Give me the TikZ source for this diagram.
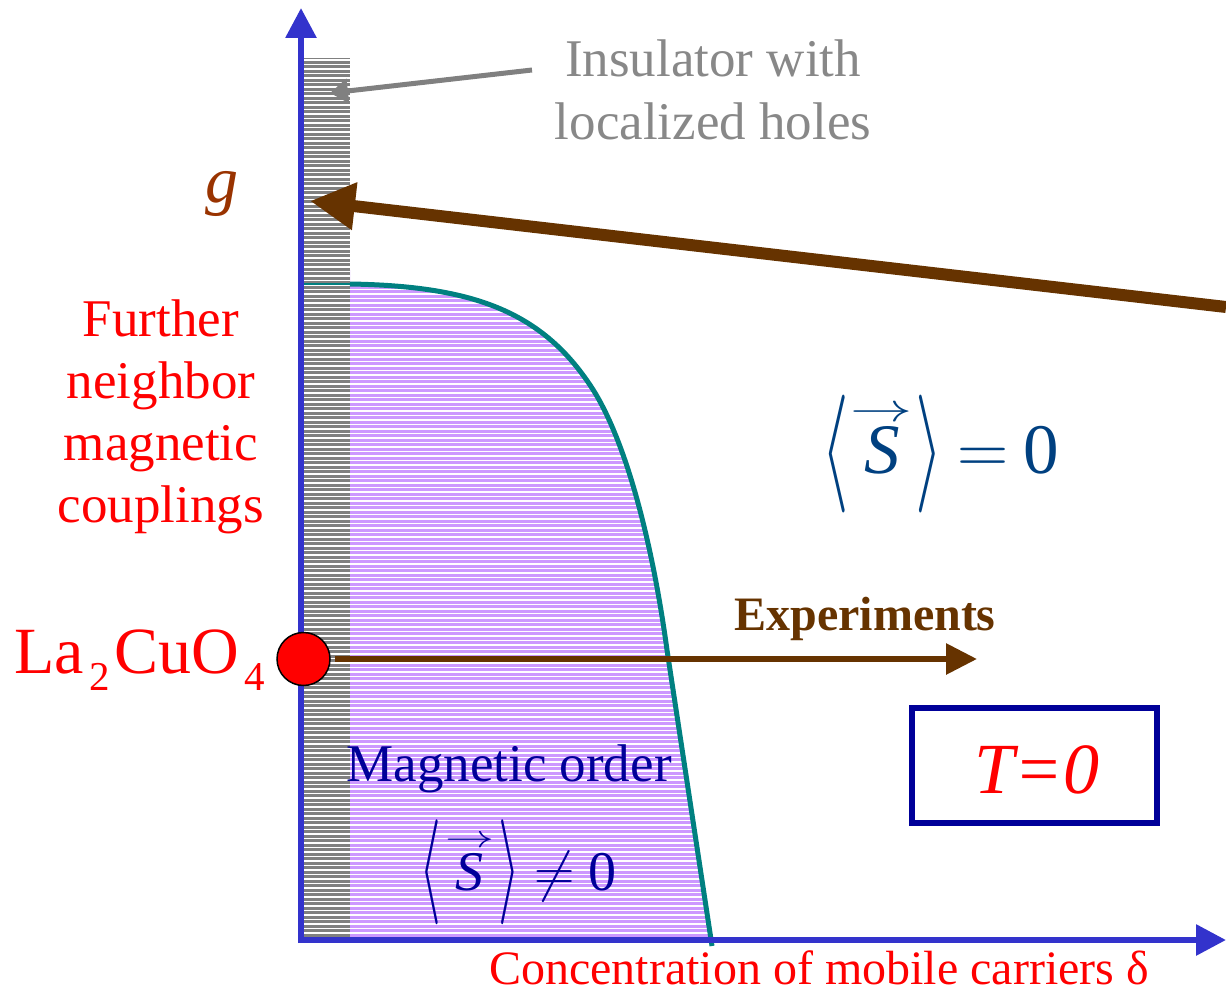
\RequirePackage{fix-cm}
\documentclass[tikz,border=0pt]{standalone}
\usepackage{amsmath}
\usepackage{graphicx}
\usepackage{fontspec}
\setmainfont{Liberation Serif}
\usetikzlibrary{arrows.meta}
\definecolor{axisblue}{HTML}{3333CC}
\definecolor{stripegray}{HTML}{808080}
\definecolor{lav}{HTML}{CC99FF}
\definecolor{tealc}{HTML}{008080}
\definecolor{brownc}{HTML}{663300}
\definecolor{gcol}{HTML}{993300}
\definecolor{dblue}{HTML}{000099}
\definecolor{eqblue}{HTML}{004080}
\definecolor{insgray}{HTML}{888888}
\newcommand{\tallL}[2]{\raisebox{#2}{\scalebox{1}[#1]{$\langle$}}}
\newcommand{\tallR}[2]{\raisebox{#2}{\scalebox{1}[#1]{$\rangle$}}}
\newcommand{\vecS}{$\overset{\scalebox{1.25}[0.8]{$\scriptstyle\rightarrow$}}{\textit{S}}$}
\begin{document}
\begin{tikzpicture}[x=1pt,y=-1pt,
  lbl/.style={inner sep=0pt, anchor=base},
  axisline/.style={axisblue, line width=6pt, -{Triangle[length=30pt,width=30pt]}},
  bigarrow/.style={brownc, line width=12pt, -{Triangle[length=45pt,width=45pt]}},
  exparrow/.style={brownc, line width=6pt, -{Triangle[length=31pt,width=30pt]}},
  insarrow/.style={stripegray, line width=5pt, -{Triangle[length=18pt,width=24pt]}}]
\useasboundingbox (0,0) rectangle (1226,992);
% shaded regions
\begin{scope}
  \clip (304,58) rectangle (350,937)
        (350,284) .. controls (470,286) and (540,310) .. (590,385)
        .. controls (625,437) and (652,540) .. (667,650) -- (712,946) -- (350,946) -- cycle;
  \fill[stripegray] (304,58) rectangle (350,937);
  \fill[lav] (350,270) rectangle (720,937);
  \foreach \yy in {60,64.5,...,937} \draw[white, line width=1.2pt] (304,\yy) -- (720,\yy);
\end{scope}
% phase boundary
\draw[tealc, line width=1.2pt] (304,284) -- (350,284);
\draw[tealc, line width=5pt] (350,284) .. controls (470,286) and (540,310) .. (590,385)
        .. controls (625,437) and (652,540) .. (667,650) -- (712,946);
% axes
\coordinate (orgy) at (301,943);
\coordinate (ytip) at (301,8);
\coordinate (orgx) at (298,940);
\coordinate (xtip) at (1226,940);
\draw[axisline] (orgy) -- (ytip);
\draw[axisline] (orgx) -- (xtip);
% arrows
\coordinate (insA) at (532,70);
\coordinate (insB) at (330,93);
\draw[insarrow] (insA) -- (insB);
\coordinate (gA) at (1226,307);
\coordinate (gB) at (310,201);
\draw[bigarrow] (gA) -- (gB);
\node[circle, fill=red, draw=black, line width=1.5pt, minimum size=53pt, inner sep=0pt] (la) at (303.5,659) {};
\coordinate (expend) at (977,659);
\draw[exparrow, shorten <=4pt] (la) -- (expend);
% box
\node[draw=dblue, line width=6pt, minimum width=245pt, minimum height=115pt, inner sep=0pt] (tbox) at (1034.5,765.5) {};
% texts
\node[lbl, text=insgray, font=\fontsize{53}{63}\selectfont] (ins1) at (713,77) {Insulator with};
\node[lbl, text=insgray, font=\fontsize{53}{63}\selectfont] (ins2) at (713,140) {localized holes};
\node[lbl, text=gcol, font=\fontsize{66}{70}\selectfont\itshape] (g) at (222,203) {g};
\node[lbl, text=red, font=\fontsize{53}{63}\selectfont] (f1) at (161,336) {Further};
\node[lbl, text=red, font=\fontsize{53}{63}\selectfont] (f2) at (161,398) {neighbor};
\node[lbl, text=red, font=\fontsize{53}{63}\selectfont] (f3) at (161,460) {magnetic};
\node[lbl, text=red, font=\fontsize{53}{63}\selectfont] (f4) at (161,522) {couplings};
\node[lbl, anchor=base west, text=red, font=\fontsize{66}{70}\selectfont] (lacuo) at (14,673) {La\hspace{6pt}\raisebox{-17pt}{\fontsize{41}{41}\selectfont 2}\hspace{4pt}CuO\hspace{6pt}\raisebox{-17pt}{\fontsize{41}{41}\selectfont 4}};
\node[lbl, text=eqblue, font=\fontsize{71}{85}\selectfont] (seq) at (940,473) {\tallL{1.66}{-10pt}\hspace{2pt}\vecS\hspace{2pt}\tallR{1.66}{-10pt}\hspace{-3pt} $=$\hspace{-3pt} 0};
\node[lbl, text=brownc, font=\fontsize{48}{58}\selectfont\bfseries] (exp) at (865,630) {Experiments};
\node[lbl, text=dblue, font=\fontsize{53}{63}\selectfont] (mo) at (509,781) {Magnetic order};
\node[lbl, text=dblue, font=\fontsize{56}{67}\selectfont] (sneq) at (518,890) {\tallL{1.875}{-8pt}\hspace{4pt}\vecS\hspace{4pt}\tallR{1.875}{-8pt} $\neq$ 0};
\node[lbl, text=red, font=\fontsize{72}{86}\selectfont\itshape] (t0) at (1037,793) {T=0};
\node[lbl, text=red, font=\fontsize{48}{58}\selectfont] (xl) at (819,984) {Concentration of mobile carriers δ};
\end{tikzpicture}
\end{document}
